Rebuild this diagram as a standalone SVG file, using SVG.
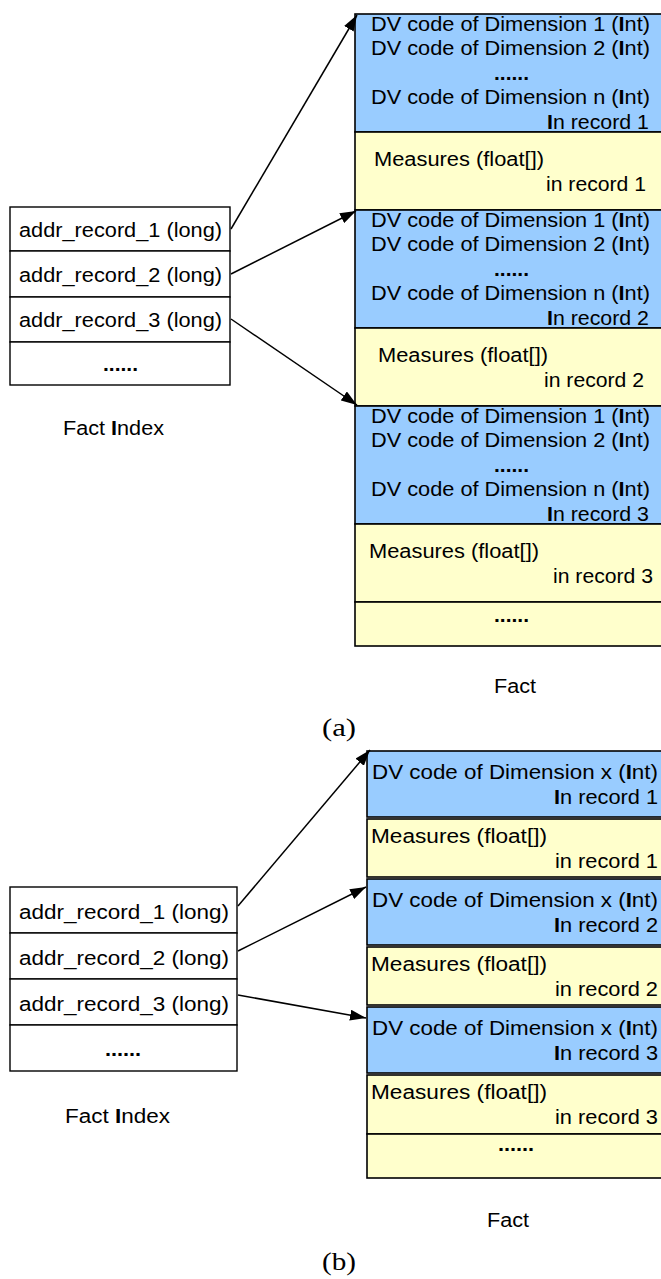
<svg xmlns="http://www.w3.org/2000/svg" width="661" height="1279" viewBox="0 0 661 1279">
<style>
text{font-family:"Liberation Sans",Arial,sans-serif;font-size:20px;fill:#000}
.b{font-weight:bold}
.blue{fill:#99ccff;stroke:#000;stroke-width:1.6}
.yel{fill:#ffffcc;stroke:#000;stroke-width:1.6}
.idx{fill:#fff;stroke:#000;stroke-width:1.4}
.cap{font-family:"Liberation Serif","DejaVu Serif",serif;font-size:25px}
.con{stroke:#000;stroke-width:1.5;fill:none;marker-end:url(#ah)}
</style>
<defs>
<marker id="ah" viewBox="0 0 16 11" refX="16" refY="5.5" markerWidth="16" markerHeight="11" markerUnits="userSpaceOnUse" orient="auto">
<path d="M0,0 L16,5.5 L0,11 Z" fill="#000"/>
</marker>
</defs>

<!-- (a) Fact Index -->
<g id="a-index">
<rect class="idx" x="10" y="207" width="220" height="44"/>
<rect class="idx" x="10" y="251" width="220" height="46"/>
<rect class="idx" x="10" y="297" width="220" height="45"/>
<rect class="idx" x="10" y="342" width="220" height="43"/>
<text x="19" y="237" textLength="203" lengthAdjust="spacingAndGlyphs">addr_record_1 (long)</text>
<text x="19" y="282" textLength="203" lengthAdjust="spacingAndGlyphs">addr_record_2 (long)</text>
<text x="19" y="327" textLength="203" lengthAdjust="spacingAndGlyphs">addr_record_3 (long)</text>
<text class="b" x="103" y="371" textLength="35" lengthAdjust="spacingAndGlyphs">......</text>
<text x="63" y="435" textLength="101" lengthAdjust="spacingAndGlyphs">Fact <tspan class="b">I</tspan>ndex</text>
</g>

<!-- (a) Fact -->
<g id="a-fact">
<rect class="blue" x="355" y="14" width="320" height="118"/>
<rect class="yel" x="355" y="132" width="320" height="78"/>
<rect class="blue" x="355" y="210" width="320" height="118"/>
<rect class="yel" x="355" y="328" width="320" height="78"/>
<rect class="blue" x="355" y="406" width="320" height="118"/>
<rect class="yel" x="355" y="524" width="320" height="78"/>
<rect class="yel" x="355" y="602" width="320" height="44"/>

<text x="371" y="31" textLength="279" lengthAdjust="spacingAndGlyphs">DV code of Dimension 1 (<tspan class="b">I</tspan>nt)</text>
<text x="371" y="55" textLength="279" lengthAdjust="spacingAndGlyphs">DV code of Dimension 2 (<tspan class="b">I</tspan>nt)</text>
<text class="b" x="494" y="80" textLength="35" lengthAdjust="spacingAndGlyphs">......</text>
<text x="371" y="104" textLength="279" lengthAdjust="spacingAndGlyphs">DV code of Dimension n (<tspan class="b">I</tspan>nt)</text>
<text x="547" y="129" textLength="102" lengthAdjust="spacingAndGlyphs"><tspan class="b">I</tspan>n record 1</text>
<text x="374" y="166" textLength="170" lengthAdjust="spacingAndGlyphs">Measures (float[])</text>
<text x="546" y="191" textLength="100" lengthAdjust="spacingAndGlyphs">in record 1</text>

<text x="371" y="227" textLength="279" lengthAdjust="spacingAndGlyphs">DV code of Dimension 1 (<tspan class="b">I</tspan>nt)</text>
<text x="371" y="251" textLength="279" lengthAdjust="spacingAndGlyphs">DV code of Dimension 2 (<tspan class="b">I</tspan>nt)</text>
<text class="b" x="494" y="276" textLength="35" lengthAdjust="spacingAndGlyphs">......</text>
<text x="371" y="300" textLength="279" lengthAdjust="spacingAndGlyphs">DV code of Dimension n (<tspan class="b">I</tspan>nt)</text>
<text x="547" y="325" textLength="102" lengthAdjust="spacingAndGlyphs"><tspan class="b">I</tspan>n record 2</text>
<text x="378" y="362" textLength="170" lengthAdjust="spacingAndGlyphs">Measures (float[])</text>
<text x="544" y="387" textLength="100" lengthAdjust="spacingAndGlyphs">in record 2</text>

<text x="371" y="423" textLength="279" lengthAdjust="spacingAndGlyphs">DV code of Dimension 1 (<tspan class="b">I</tspan>nt)</text>
<text x="371" y="447" textLength="279" lengthAdjust="spacingAndGlyphs">DV code of Dimension 2 (<tspan class="b">I</tspan>nt)</text>
<text class="b" x="494" y="472" textLength="35" lengthAdjust="spacingAndGlyphs">......</text>
<text x="371" y="496" textLength="279" lengthAdjust="spacingAndGlyphs">DV code of Dimension n (<tspan class="b">I</tspan>nt)</text>
<text x="547" y="521" textLength="102" lengthAdjust="spacingAndGlyphs"><tspan class="b">I</tspan>n record 3</text>
<text x="369" y="558" textLength="170" lengthAdjust="spacingAndGlyphs">Measures (float[])</text>
<text x="553" y="583" textLength="100" lengthAdjust="spacingAndGlyphs">in record 3</text>

<text class="b" x="494" y="622" textLength="35" lengthAdjust="spacingAndGlyphs">......</text>
<text x="494" y="693" textLength="42" lengthAdjust="spacingAndGlyphs">Fact</text>
</g>

<text class="cap" x="322" y="736" textLength="34" lengthAdjust="spacingAndGlyphs">(a)</text>

<!-- (b) Fact Index -->
<g id="b-index">
<rect class="idx" x="10" y="887" width="227" height="46"/>
<rect class="idx" x="10" y="933" width="227" height="46"/>
<rect class="idx" x="10" y="979" width="227" height="46"/>
<rect class="idx" x="10" y="1025" width="227" height="46"/>
<text x="19" y="919" textLength="210" lengthAdjust="spacingAndGlyphs">addr_record_1 (long)</text>
<text x="19" y="965" textLength="210" lengthAdjust="spacingAndGlyphs">addr_record_2 (long)</text>
<text x="19" y="1011" textLength="210" lengthAdjust="spacingAndGlyphs">addr_record_3 (long)</text>
<text class="b" x="105" y="1056" textLength="36" lengthAdjust="spacingAndGlyphs">......</text>
<text x="65" y="1123" textLength="105" lengthAdjust="spacingAndGlyphs">Fact <tspan class="b">I</tspan>ndex</text>
</g>

<!-- (b) Fact -->
<g id="b-fact">
<rect class="blue" x="367" y="751" width="310" height="66"/>
<rect class="yel" x="367" y="819" width="310" height="58"/>
<rect class="blue" x="367" y="879" width="310" height="66"/>
<rect class="yel" x="367" y="947" width="310" height="58"/>
<rect class="blue" x="367" y="1007" width="310" height="66"/>
<rect class="yel" x="367" y="1075" width="310" height="59"/>
<rect class="yel" x="367" y="1134" width="310" height="44"/>

<text x="372" y="779" textLength="286" lengthAdjust="spacingAndGlyphs">DV code of Dimension x (<tspan class="b">I</tspan>nt)</text>
<text x="554" y="804" textLength="104" lengthAdjust="spacingAndGlyphs"><tspan class="b">I</tspan>n record 1</text>
<text x="371" y="843" textLength="176" lengthAdjust="spacingAndGlyphs">Measures (float[])</text>
<text x="555" y="868" textLength="103" lengthAdjust="spacingAndGlyphs">in record 1</text>

<text x="372" y="907" textLength="286" lengthAdjust="spacingAndGlyphs">DV code of Dimension x (<tspan class="b">I</tspan>nt)</text>
<text x="554" y="932" textLength="104" lengthAdjust="spacingAndGlyphs"><tspan class="b">I</tspan>n record 2</text>
<text x="371" y="971" textLength="176" lengthAdjust="spacingAndGlyphs">Measures (float[])</text>
<text x="555" y="996" textLength="103" lengthAdjust="spacingAndGlyphs">in record 2</text>

<text x="372" y="1035" textLength="286" lengthAdjust="spacingAndGlyphs">DV code of Dimension x (<tspan class="b">I</tspan>nt)</text>
<text x="554" y="1060" textLength="104" lengthAdjust="spacingAndGlyphs"><tspan class="b">I</tspan>n record 3</text>
<text x="371" y="1099" textLength="176" lengthAdjust="spacingAndGlyphs">Measures (float[])</text>
<text x="555" y="1124" textLength="103" lengthAdjust="spacingAndGlyphs">in record 3</text>

<text class="b" x="498" y="1151" textLength="36" lengthAdjust="spacingAndGlyphs">......</text>
<text x="487" y="1227" textLength="42" lengthAdjust="spacingAndGlyphs">Fact</text>
</g>

<text class="cap" x="322" y="1270" textLength="34" lengthAdjust="spacingAndGlyphs">(b)</text>

<!-- connectors -->
<g id="connectors">
<line class="con" x1="231" y1="229" x2="357" y2="15"/>
<line class="con" x1="231" y1="274" x2="356" y2="211"/>
<line class="con" x1="231" y1="319" x2="357" y2="405"/>
<line class="con" x1="238" y1="906" x2="370" y2="750"/>
<line class="con" x1="238" y1="951" x2="366" y2="887"/>
<line class="con" x1="238" y1="995" x2="366" y2="1018"/>
</g>
</svg>
